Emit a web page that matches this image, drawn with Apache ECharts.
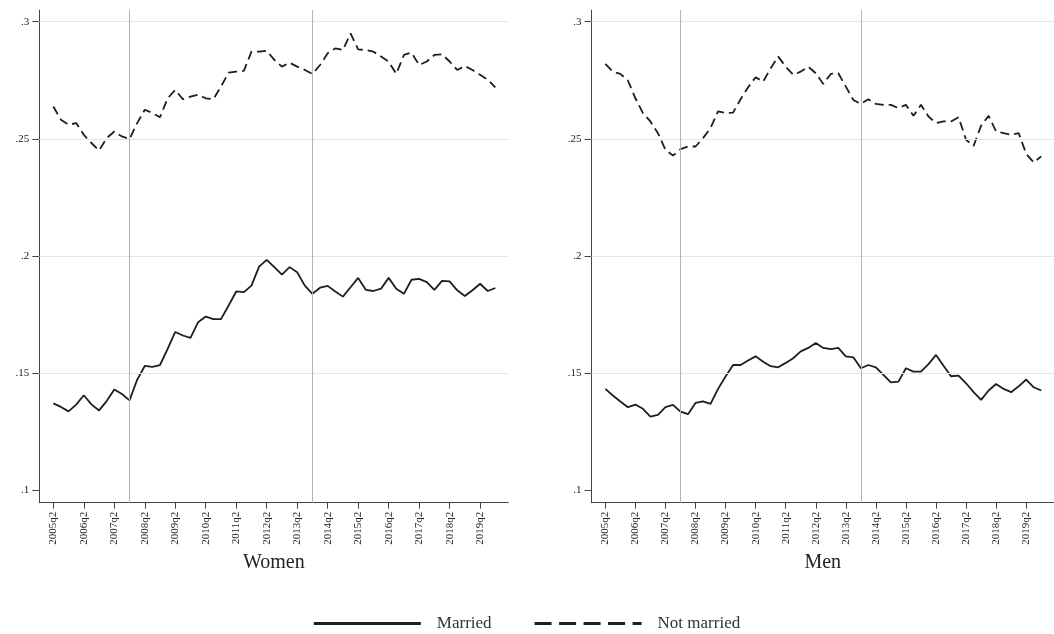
<!DOCTYPE html>
<html>
<head>
<meta charset="utf-8">
<script src="https://cdn.jsdelivr.net/npm/echarts@6/dist/echarts.min.js"></script>
<style>
html,body{margin:0;padding:0;background:#fff;}
#chart{width:1054px;height:634px;}
</style>
</head>
<body>
<div id="chart"></div>
<script>
// ---- data ----
const quarters = [
 '2005q2','2005q3','2005q4','2006q1','2006q2','2006q3','2006q4','2007q1','2007q2','2007q3','2007q4',
 '2008q1','2008q2','2008q3','2008q4','2009q1','2009q2','2009q3','2009q4','2010q1','2010q2','2010q3','2010q4',
 '2011q1','2011q2','2011q3','2011q4','2012q1','2012q2','2012q3','2012q4','2013q1','2013q2','2013q3','2013q4',
 '2014q1','2014q2','2014q3','2014q4','2015q1','2015q2','2015q3','2015q4','2016q1','2016q2','2016q3','2016q4',
 '2017q1','2017q2','2017q3','2017q4','2018q1','2018q2','2018q3','2018q4','2019q1','2019q2','2019q3','2019q4'
];
const xTickLabels = ['2005q2','2006q2','2007q2','2008q2','2009q2','2010q2','2011q2','2012q2','2013q2','2014q2','2015q2','2016q2','2017q2','2018q2','2019q2'];
const yTickValues = [0.1, 0.15, 0.2, 0.25, 0.3];
const yTickLabels = ['.1', '.15', '.2', '.25', '.3'];
const eventQuarters = ['2007q4', '2013q4'];

const womenMarried = [
 0.137,0.1355,0.1336,0.1365,0.1405,0.1366,0.134,0.138,0.1429,0.141,0.1383,
 0.1471,0.153,0.1526,0.1534,0.1603,0.1675,0.166,0.165,0.1717,0.1741,0.173,0.173,
 0.1788,0.1848,0.1845,0.1873,0.1954,0.1983,0.1952,0.192,0.1952,0.193,0.1873,0.1838,
 0.1864,0.1872,0.1848,0.1826,0.1866,0.1906,0.1855,0.185,0.186,0.1906,0.186,0.1838,
 0.1898,0.1902,0.1888,0.1855,0.1893,0.1891,0.1853,0.1829,0.1853,0.1881,0.185,0.1863
];
const womenNotMarried = [
 0.2638,0.2581,0.256,0.2567,0.2517,0.2482,0.245,0.2503,0.2531,0.251,0.2499,
 0.2567,0.2624,0.261,0.2592,0.2673,0.2709,0.2669,0.268,0.2688,0.2673,0.2669,0.2723,
 0.2783,0.2787,0.279,0.2872,0.2872,0.2876,0.2837,0.2808,0.2825,0.2808,0.2794,0.2777,
 0.2815,0.2865,0.2886,0.2879,0.295,0.2882,0.2879,0.2872,0.2851,0.283,0.2777,0.2858,
 0.2868,0.2815,0.283,0.2858,0.2861,0.283,0.2794,0.2811,0.2794,0.2773,0.2752,0.272
];
const menMarried = [
 0.1432,0.1404,0.1378,0.1354,0.1365,0.1347,0.1314,0.1321,0.1354,0.1364,0.1335,
 0.1324,0.1372,0.1379,0.1368,0.1432,0.1485,0.1534,0.1534,0.1553,0.1571,0.1548,0.1529,
 0.1524,0.1543,0.1563,0.1592,0.1607,0.1628,0.1607,0.1602,0.1607,0.1571,0.1567,0.152,
 0.1534,0.1524,0.1492,0.146,0.1463,0.152,0.1506,0.1506,0.1538,0.1577,0.1531,0.1486,
 0.1489,0.1456,0.1418,0.1385,0.1425,0.1453,0.1432,0.1418,0.1443,0.1472,0.1439,0.1425
];
const menNotMarried = [
 0.282,0.2787,0.2777,0.2749,0.2673,0.261,0.2574,0.2524,0.2453,0.2428,0.2456,
 0.2467,0.2467,0.2503,0.2546,0.2617,0.261,0.2612,0.2669,0.272,0.2763,0.2744,0.2801,
 0.2851,0.2808,0.2773,0.2787,0.2808,0.278,0.2734,0.2777,0.278,0.2723,0.2666,0.2649,
 0.2669,0.2649,0.2645,0.2645,0.2631,0.2645,0.2598,0.2645,0.2595,0.2567,0.2574,0.2574,
 0.2592,0.2496,0.247,0.2556,0.2598,0.2531,0.2524,0.2517,0.2524,0.2436,0.2399,0.2425
];
const panelTitles = ['Women', 'Men'];
const seriesNames = ['Married', 'Not married'];

// ---- chart ----
const FONT = '"Liberation Serif", "DejaVu Serif", serif';
const tickIdx = xTickLabels.map(l => quarters.indexOf(l));
const eventIdx = eventQuarters.map(q => quarters.indexOf(q));
const toPts = arr => arr.map((v, i) => [i, v]);

const gridW = 469, gridH = 492.7, gridTop = 10;
const grids = [
  {left: 39.3, top: gridTop, width: gridW, height: gridH},
  {left: 591.5, top: gridTop, width: gridW, height: gridH}
];

function xAxis(gi) {
  return {
    type: 'value', gridIndex: gi, min: -1.84, max: 59.7,
    name: panelTitles[gi], nameLocation: 'middle', nameGap: 44,
    nameTextStyle: {fontFamily: FONT, fontSize: 20, color: '#222'},
    axisLine: {show: true, onZero: false, lineStyle: {color: '#444', width: 1}},
    axisTick: {show: true, length: 6, customValues: tickIdx, lineStyle: {color: '#444'}},
    axisLabel: {
      show: true, rotate: 90, margin: 9, customValues: tickIdx,
      fontFamily: FONT, fontSize: 11, color: '#222',
      formatter: v => quarters[Math.round(v)] || ''
    },
    splitLine: {show: false}
  };
}
function yAxis(gi) {
  return {
    type: 'value', gridIndex: gi, min: 0.0946, max: 0.305,
    axisLine: {show: true, onZero: false, lineStyle: {color: '#444', width: 1}},
    axisTick: {show: true, length: 7, customValues: yTickValues, lineStyle: {color: '#444'}},
    axisLabel: {
      show: true, margin: 10, customValues: yTickValues,
      fontFamily: FONT, fontSize: 11, color: '#222',
      formatter: v => {
        const k = yTickValues.findIndex(t => Math.abs(t - v) < 1e-6);
        return k >= 0 ? yTickLabels[k] : '';
      }
    },
    splitLine: {show: false}
  };
}

function refSeries(gi) {
  return {
    type: 'line', xAxisIndex: gi, yAxisIndex: gi, data: [], z: 1, silent: true,
    markLine: {
      silent: true, symbol: 'none', animation: false,
      label: {show: false},
      data: [
        ...yTickValues.filter(v => v > 0.1).map(v => ({yAxis: v, lineStyle: {color: '#dde9ec', width: 1, type: 'solid'}})),
        ...eventIdx.map(i => ({xAxis: i, lineStyle: {color: '#b4b4b4', width: 1, type: 'solid'}}))
      ]
    }
  };
}
function dataSeries(gi, name, arr, dashed) {
  return {
    type: 'line', name: name, xAxisIndex: gi, yAxisIndex: gi, z: 3,
    data: toPts(arr), symbol: 'none', showSymbol: false, animation: false,
    lineStyle: {color: '#1e1e1e', width: 1.8, type: dashed ? [9, 5] : 'solid'},
    itemStyle: {color: '#1e1e1e'}
  };
}

const solidIcon = 'path://M0,0 H107 V3 H0 Z';
const dashIcon = 'path://M0,0 H17 V3 H0 Z M24.5,0 H41.5 V3 H24.5 Z M49,0 H66 V3 H49 Z M73.5,0 H90.5 V3 H73.5 Z M98,0 H107 V3 H98 Z';

const option = {
  backgroundColor: '#fff',
  animation: false,
  grid: grids,
  xAxis: [xAxis(0), xAxis(1)],
  yAxis: [yAxis(0), yAxis(1)],
  legend: {
    orient: 'horizontal',
    bottom: -3, left: 'center',
    itemWidth: 107, itemHeight: 3, itemGap: 43,
    textStyle: {fontFamily: FONT, fontSize: 17, color: '#333', padding: [0, 0, 0, 11]},
    data: [
      {name: seriesNames[0], icon: solidIcon},
      {name: seriesNames[1], icon: dashIcon}
    ]
  },
  series: [
    refSeries(0), refSeries(1),
    dataSeries(0, seriesNames[0], womenMarried, false),
    dataSeries(0, seriesNames[1], womenNotMarried, true),
    dataSeries(1, seriesNames[0], menMarried, false),
    dataSeries(1, seriesNames[1], menNotMarried, true)
  ]
};
const chart = echarts.init(document.getElementById('chart'), null, {renderer: 'canvas'});
chart.setOption(option);
</script>
</body>
</html>
